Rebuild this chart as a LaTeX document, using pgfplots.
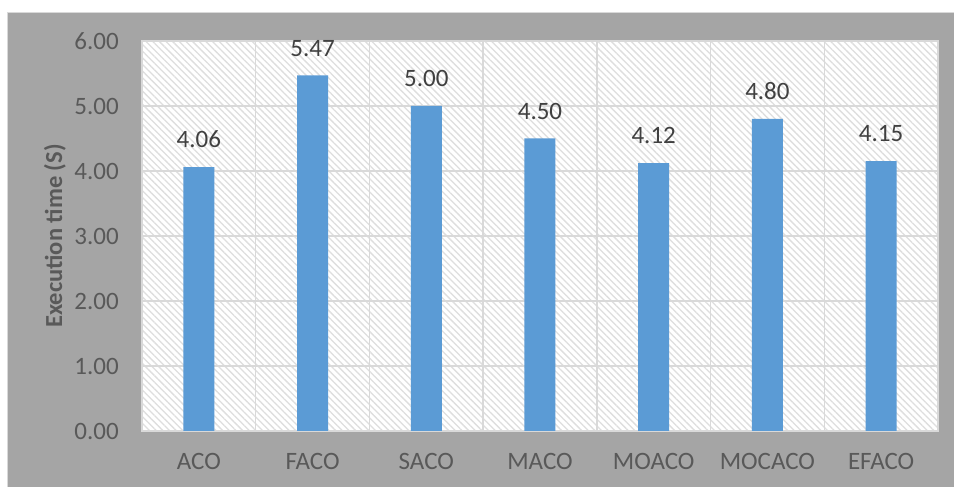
\documentclass[border=0pt]{standalone}
\usepackage{pgfplots}
\pgfplotsset{compat=1.18}
\usepackage{fontspec}
\setmainfont{Carlito}
\usetikzlibrary{patterns.meta}
\definecolor{bg}{HTML}{A5A5A5}
\definecolor{gridc}{HTML}{D9D9D9}
\definecolor{hatch}{HTML}{DEDEDE}
\definecolor{barc}{HTML}{5B9BD5}
\definecolor{tickc}{HTML}{595959}
\definecolor{valc}{HTML}{404040}
\begin{document}
\begin{tikzpicture}[x=1pt,y=1pt]
\useasboundingbox (0,0) rectangle (954,487);
\fill[bg] (7,0) rectangle (954,475);
\draw[gridc, line width=1pt] (7,0) -- (7,474.5) -- (954,474.5);
\begin{axis}[
  at={(142pt,56pt)}, anchor=south west,
  scale only axis, width=796pt, height=390pt,
  ymin=0, ymax=6, ytick={0,1,2,3,4,5,6},
  xmin=-0.5, xmax=6.5,
  xtick={0,1,2,3,4,5,6},
  xticklabels={ACO,FACO,SACO,MACO,MOACO,MOCACO,EFACO},
  minor xtick={0.5,1.5,2.5,3.5,4.5,5.5},
  ymajorgrids, xminorgrids,
  major grid style={gridc, line width=1.5pt},
  minor grid style={gridc, line width=1.5pt},
  axis line style={gridc, line width=1.5pt},
  major tick length=0pt, minor tick length=0pt,
  axis background/.style={fill=white, postaction={pattern={Lines[angle=-45, distance=4.7pt, line width=1.3pt]}, pattern color=hatch}},
  /pgf/number format/assume math mode=true,
  yticklabel style={/pgf/number format/.cd, fixed, fixed zerofill, precision=2, /tikz/.cd, font=\fontsize{25}{29}\selectfont, text=tickc, anchor=east, inner sep=0pt, xshift=-23pt},
  xticklabel style={font=\fontsize{25}{29}\selectfont, text=tickc, anchor=north, inner sep=0pt, yshift=-22pt},
  ylabel={Execution time (S)},
  ylabel style={font=\fontsize{24.5}{28}\selectfont\bfseries, text=tickc, anchor=center, at={(axis description cs:-0.1093,0.5)}},
  ybar, bar width=31pt,
  nodes near coords,
  nodes near coords style={/pgf/number format/.cd, fixed, fixed zerofill, precision=2, /tikz/.cd, font=\fontsize{25}{29}\selectfont, text=valc, anchor=south, inner sep=0pt, yshift=19pt},
]
\addplot[fill=barc, draw=none] coordinates {(0,4.06) (1,5.47) (2,5.00) (3,4.50) (4,4.12) (5,4.80) (6,4.15)};
\end{axis}
\end{tikzpicture}
\end{document}
